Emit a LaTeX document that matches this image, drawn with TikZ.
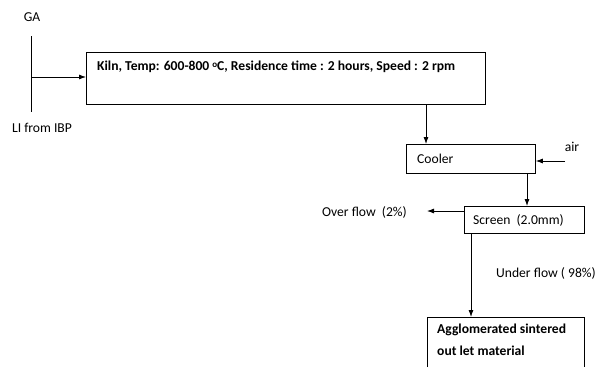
\documentclass[tikz,border=0pt]{standalone}
\usepackage{fontspec}
\setmainfont{Carlito}
\usetikzlibrary{arrows.meta}
\begin{document}
\begin{tikzpicture}[x=1pt,y=-1pt,
  box/.style={draw,line width=0.8pt,inner sep=0pt},
  lbl/.style={font=\fontsize{13.6}{16}\selectfont,inner sep=0pt},
  blbl/.style={font=\fontsize{13.6}{16}\selectfont\bfseries,inner sep=0pt},
  flow/.style={line width=0.8pt,-{Latex[length=7pt,width=5pt]}},
  ln/.style={line width=0.8pt}]
\useasboundingbox (0,0) rectangle (597,367);
% feed
\node[lbl] (ga) at (32,17) {GA};
\node[lbl] (li) at (42,128) {LI from IBP};
\coordinate (ftop) at (31,36);
\coordinate (fbot) at (31,112);
\coordinate (fmid) at (31,77);
\draw[ln] (ftop) -- (fbot);
% kiln
\node[box,minimum width=399pt,minimum height=52pt,anchor=north west] (kiln) at (86,52) {};
\node[blbl,anchor=west] (kilnt) at (97,67) {Kiln, Temp: 600-800 \raisebox{0.55ex}{\fontsize{9}{10}\selectfont o}C, Residence time : 2 hours, Speed : 2 rpm};
\draw[flow] (fmid) -- (kiln.west |- fmid);
% cooler
\node[box,minimum width=129pt,minimum height=29pt,anchor=north west] (cool) at (406,144) {};
\node[lbl,anchor=west] (coolt) at (417,159) {Cooler};
\coordinate (k1) at (426,104);
\draw[flow] (k1) -- (k1 |- cool.north);
\node[lbl] (air) at (572,147) {air};
\coordinate (airs) at (565,161);
\draw[flow] (airs) -- (cool.east |- airs);
% screen
\node[box,minimum width=120pt,minimum height=27pt,anchor=north west] (scr) at (464,206) {};
\node[lbl,anchor=west] (scrt) at (473,220) {Screen\ \ (2.0mm)};
\coordinate (c1) at (527,173);
\draw[flow] (c1) -- (c1 |- scr.north);
% overflow
\coordinate (ov) at (427,211);
\draw[flow] (scr.west |- ov) -- (ov);
\node[lbl,anchor=east] (ovt) at (407,212) {Over flow\ \ (2\%)};
% underflow
\node[lbl,anchor=west] (unt) at (496,273) {Under flow ( 98\%)};
\coordinate (s1) at (471,233);
\coordinate (ab) at (471,317);
\draw[flow] (s1) -- (ab);
% agglomerated box (cut off at bottom)
\coordinate (a1) at (427,367);
\coordinate (a2) at (427,317);
\coordinate (a3) at (584,317);
\coordinate (a4) at (584,367);
\draw[ln] (a1) -- (a2) -- (a3) -- (a4);
\node[blbl,anchor=west] (ag1) at (437,330) {Agglomerated sintered};
\node[blbl,anchor=west] (ag2) at (437,351) {out let material};
\end{tikzpicture}
\end{document}
